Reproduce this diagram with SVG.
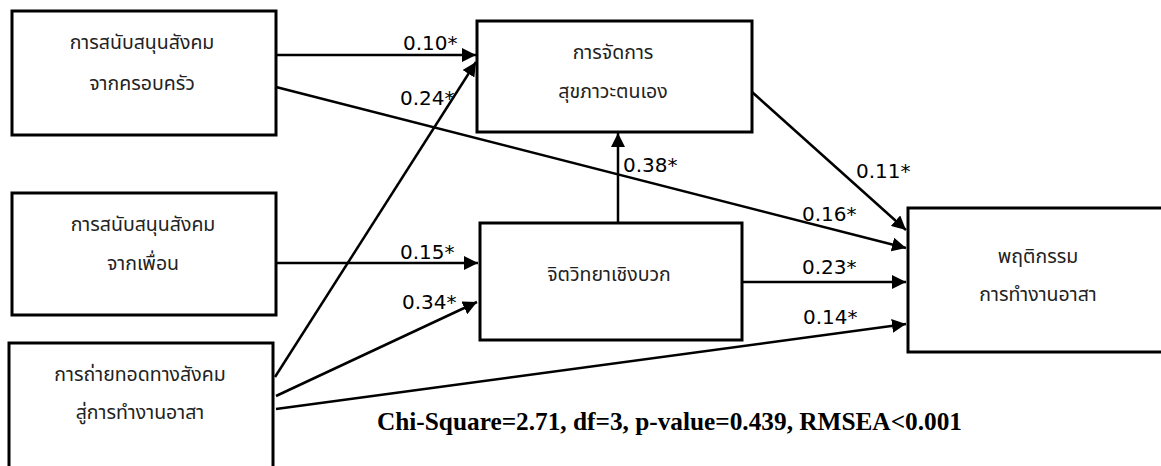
<svg xmlns="http://www.w3.org/2000/svg" width="1161" height="466" viewBox="0 0 1161 466">
<defs>
<marker id="arr" markerWidth="14" markerHeight="14" viewBox="0 0 14 14" refX="14" refY="7" orient="auto" markerUnits="userSpaceOnUse">
<path d="M0,0 L14,7 L0,14 Z" fill="#000"/>
</marker>
<style>
.box{fill:#fff;stroke:#000;stroke-width:3}
.th{font-family:"Noto Sans Thai","Noto Sans","DejaVu Sans",sans-serif;font-size:19.5px;fill:#222;text-anchor:middle}
.lbl{font-family:"DejaVu Sans",sans-serif;font-size:20px;fill:#000}
.ln{stroke:#000;stroke-width:2.5;fill:none;marker-end:url(#arr)}
.chi{font-family:"Liberation Serif",serif;font-weight:bold;font-size:25.3px;fill:#000}
</style>
</defs>
<rect width="1161" height="466" fill="#fff"/>
<g id="connectors">
<line class="ln" x1="276" y1="55" x2="476" y2="55"/>
<line class="ln" x1="276" y1="87" x2="906" y2="248"/>
<line class="ln" x1="275" y1="377" x2="476" y2="62"/>
<line class="ln" x1="276" y1="263" x2="478" y2="263"/>
<line class="ln" x1="276" y1="396" x2="477" y2="302"/>
<line class="ln" x1="276" y1="409" x2="906" y2="324"/>
<line class="ln" x1="618" y1="230" x2="618" y2="133"/>
<line class="ln" x1="742" y1="282" x2="906" y2="282"/>
<line class="ln" x1="752" y1="92" x2="906" y2="230"/>
</g>
<g id="n_family">
<rect class="box" x="12" y="11" width="264" height="124"/>
<text class="th" x="142" y="49">การสนับสนุนสังคม</text>
<text class="th" x="142" y="90">จากครอบครัว</text>
</g>
<g id="n_friend">
<rect class="box" x="12" y="193" width="264" height="122"/>
<text class="th" x="143" y="231">การสนับสนุนสังคม</text>
<text class="th" x="143" y="270">จากเพื่อน</text>
</g>
<g id="n_social">
<rect class="box" x="9" y="343" width="264" height="130"/>
<text class="th" x="140" y="381">การถ่ายทอดทางสังคม</text>
<text class="th" x="140" y="419">สู่การทำงานอาสา</text>
</g>
<g id="n_health">
<rect class="box" x="477" y="21" width="275" height="111"/>
<text class="th" x="613" y="59">การจัดการ</text>
<text class="th" x="613" y="98">สุขภาวะตนเอง</text>
</g>
<g id="n_psy">
<rect class="box" x="480" y="223" width="262" height="117"/>
<text class="th" x="609" y="281">จิตวิทยาเชิงบวก</text>
</g>
<g id="n_behavior">
<rect class="box" x="908" y="208" width="260" height="144"/>
<text class="th" x="1038" y="263">พฤติกรรม</text>
<text class="th" x="1038" y="301">การทำงานอาสา</text>
</g>
<g id="labels">
<text class="lbl" x="403" y="50">0.10*</text>
<text class="lbl" x="400" y="105">0.24*</text>
<text class="lbl" x="623" y="172">0.38*</text>
<text class="lbl" x="856" y="178">0.11*</text>
<text class="lbl" x="802" y="221">0.16*</text>
<text class="lbl" x="802" y="274">0.23*</text>
<text class="lbl" x="803" y="324">0.14*</text>
<text class="lbl" x="400" y="259">0.15*</text>
<text class="lbl" x="402" y="309">0.34*</text>
</g>
<text class="chi" x="377" y="430">Chi-Square=2.71, df=3, p-value=0.439, RMSEA&lt;0.001</text>
</svg>
